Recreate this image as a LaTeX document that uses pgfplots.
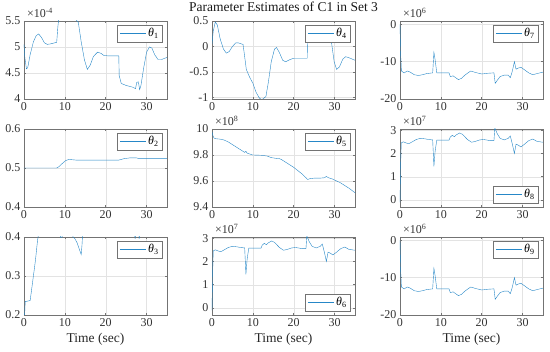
\documentclass[border=0pt]{standalone}
\usepackage{pgfplots}
\pgfplotsset{compat=1.18}
\usepgfplotslibrary{groupplots}
\usetikzlibrary{calc}
\usepackage{fontspec}
\setmainfont{Liberation Serif}
\definecolor{mblue}{rgb}{0.0,0.447,0.741}
\colorlet{lblue}{mblue!85!white}
\pgfplotsset{
  expo/.style={extra description/.code={\node[anchor=south west,inner sep=0pt,font=\fontsize{12}{12}\selectfont,text=black!80] at (0.02,1.04) {×10\textsuperscript{#1}};}},
  legNE/.style={legend style={at={(0.97,0.95)},anchor=north east}},
  legSE/.style={legend style={at={(0.97,0.05)},anchor=south east}},
}
\begin{document}
\begin{tikzpicture}
\begin{groupplot}[
  group style={group size=3 by 3, horizontal sep=45pt, vertical sep=30pt},
  scale only axis, width=143pt, height=78pt,
  xmin=0, xmax=35, xtick={0,10,20,30},
  grid=major, major grid style={gray!22, line width=0.4pt},
  axis line style={black!55, line width=0.5pt},
  tick style={black!55, line width=0.5pt}, major tick length=2.2pt,
  tick label style={font=\fontsize{12}{13}\selectfont, text=black!80},
  /pgf/number format/assume math mode=true,
  label style={font=\fontsize{13.5}{15}\selectfont, text=black!85},
  title style={font=\fontsize{13.5}{15}\selectfont, text=black!90},
  legend style={font=\fontsize{12}{13}\selectfont, draw=black!55, fill=white, inner xsep=2pt, inner ysep=1.5pt, cells={anchor=west}},
  legend image code/.code={\draw[lblue, line width=0.5pt] (0pt,0pt) -- (26pt,0pt);},
  cycle list={{lblue, line width=0.5pt, mark=none}},
]
% theta1
\nextgroupplot[ymin=4, ymax=5.5, ytick={4,4.5,5,5.5}, expo={-4}, legNE]
\addplot coordinates {(0,5.05) (0.2,4.8) (0.6,4.58) (0.9,4.6) (1.5,4.85) (2.3,5.1) (3,5.22) (3.6,5.25) (4.3,5.18) (5,5.08) (5.7,5.05) (6.5,5.06) (7.5,5.08) (8,5.09) (8.3,5.4) (8.6,5.6) (9,5.62) (12,5.62) (12.5,5.55) (13.3,5.47) (14,5.1) (14.8,4.75) (15.5,4.57) (16.2,4.65) (17,4.82) (18,4.9) (18.8,4.88) (19.5,4.84) (20.5,4.83) (23.2,4.83) (23.3,4.45) (23.8,4.3) (25,4.26) (26.5,4.23) (27.3,4.2) (27.6,4.32) (28,4.33) (28.3,4.18) (28.6,4.25) (29.3,4.6) (30,4.9) (30.7,5.0) (31.3,4.98) (32,4.85) (32.8,4.76) (33.7,4.76) (35,4.8)};
\addlegendentry{\textit{θ}\textsubscript{1}}
% theta4
\nextgroupplot[ymin=-1.03, ymax=0.5, ytick={-1,-0.5,0,0.5}, legNE, title={Parameter Estimates of C1 in Set 3}]
\addplot coordinates {(0,0.05) (0.3,0.3) (0.8,0.48) (1.3,0.42) (2,0.15) (2.8,-0.05) (3.5,-0.13) (4.2,-0.1) (5,0) (5.8,0.07) (6.5,0.07) (7.6,0.04) (8,-0.2) (8.4,-0.45) (9.2,-0.6) (10,-0.72) (10.8,-0.9) (11.5,-1.0) (12,-1.04) (12.5,-1.03) (13.2,-0.98) (13.8,-0.7) (14.5,-0.3) (15.3,-0.05) (15.8,-0.02) (16.5,-0.12) (17.3,-0.27) (18,-0.3) (19,-0.26) (20,-0.23) (23.3,-0.23) (23.4,0.2) (24,0.28) (26,0.3) (28,0.3) (28.7,0.2) (29.3,0.05) (29.9,-0.3) (30.5,-0.45) (31.2,-0.4) (32,-0.25) (32.7,-0.2) (33.5,-0.22) (35,-0.27)};
\addlegendentry{\textit{θ}\textsubscript{4}}
% theta7
\nextgroupplot[ymin=-20, ymax=0.9, ytick={-20,-10,0}, expo={6}, legNE]
\addplot coordinates {(0,0) (0.15,-8) (0.35,-12.5) (1,-13) (1.8,-12.5) (2.5,-12.8) (3.5,-13.5) (4.5,-13.7) (5.5,-13.5) (6.5,-13.2) (8,-13) (8.3,-7.5) (8.6,-9.5) (9,-13) (12,-13) (12.3,-14) (13,-13.8) (13.5,-14.2) (14.3,-14.8) (15,-14.5) (16,-13.5) (17.3,-12.5) (18.5,-12.9) (20,-13.3) (21.5,-13.1) (23,-13) (23.3,-15.8) (23.8,-15) (24.5,-14) (25.5,-13.6) (26.5,-13.6) (27,-14.3) (27.5,-12.5) (28,-10) (28.4,-12) (29,-11.7) (29.6,-11.5) (30.5,-12.2) (31.5,-13) (32.5,-13.5) (33.5,-13.2) (35,-12.8)};
\addlegendentry{\textit{θ}\textsubscript{7}}
% theta2
\nextgroupplot[ymin=0.4, ymax=0.6, ytick={0.4,0.5,0.6}, legNE]
\addplot coordinates {(0,0.5) (8,0.5) (8.5,0.503) (9.3,0.511) (10.2,0.519) (11,0.522) (12,0.521) (13,0.52) (23,0.52) (23.5,0.521) (24.5,0.524) (26,0.526) (27.5,0.526) (28.2,0.524) (30,0.524) (35,0.524)};
\addlegendentry{\textit{θ}\textsubscript{2}}
% theta5
\nextgroupplot[ymin=9.4, ymax=10, ytick={9.4,9.6,9.8,10}, expo={8}, legNE]
\addplot coordinates {(0,9.98) (0.2,9.95) (0.5,9.93) (1,9.925) (2,9.922) (3,9.915) (4,9.9) (5,9.88) (6,9.86) (7,9.84) (8,9.82) (8.3,9.828) (8.6,9.815) (9,9.81) (9.5,9.805) (10,9.8) (12,9.798) (13.5,9.792) (14.5,9.78) (15.5,9.775) (16.5,9.772) (17,9.765) (18,9.745) (19,9.725) (20,9.705) (21,9.68) (22,9.655) (23,9.625) (23.4,9.612) (24,9.618) (25,9.622) (26.5,9.622) (27.5,9.625) (28,9.635) (28.5,9.625) (29.5,9.615) (30.5,9.6) (31.5,9.585) (32.5,9.565) (33.5,9.545) (35,9.51)};
\addlegendentry{\textit{θ}\textsubscript{5}}
% theta8
\nextgroupplot[ymin=-0.3, ymax=3.05, ytick={0,1,2,3}, expo={7}, legSE]
\addplot coordinates {(0,-0.1) (0.15,1.5) (0.3,2.45) (0.8,2.5) (1.5,2.45) (2.2,2.42) (3,2.5) (4,2.6) (5,2.65) (6,2.63) (7,2.6) (8,2.58) (8.3,1.45) (8.6,2.1) (9,2.57) (12,2.57) (12.3,2.7) (12.8,2.78) (13.3,2.72) (13.8,2.8) (14.6,2.88) (15.3,2.82) (16.5,2.6) (17.5,2.48) (18.5,2.52) (19.5,2.58) (20.5,2.6) (22,2.55) (23,2.55) (23.2,3.1) (23.8,2.85) (24.5,2.65) (25.5,2.58) (26.5,2.65) (27,2.75) (27.5,2.4) (28,2.0) (28.4,2.4) (29,2.35) (29.6,2.28) (30.5,2.4) (31.5,2.55) (32.5,2.62) (33.5,2.52) (35,2.48)};
\addlegendentry{\textit{θ}\textsubscript{8}}
% theta3
\nextgroupplot[ymin=0.2, ymax=0.4, ytick={0.2,0.3,0.4}, legNE, xlabel={Time (sec)}]
\addplot coordinates {(0,0.2) (0.15,0.2) (0.3,0.235) (0.6,0.235) (1.5,0.237) (1.8,0.26) (2.3,0.3) (2.8,0.34) (3.3,0.39) (3.6,0.41) (4,0.42) (8.8,0.42) (9,0.398) (9.3,0.398) (9.5,0.42) (11.8,0.42) (12,0.4) (12.5,0.395) (13,0.385) (13.5,0.37) (14,0.355) (14.2,0.38) (14.4,0.42) (27,0.42) (27.2,0.395) (27.4,0.42) (28,0.42) (28.2,0.395) (28.4,0.42) (35,0.42)};
\addlegendentry{\textit{θ}\textsubscript{3}}
% theta6
\nextgroupplot[ymin=-0.3, ymax=3.05, ytick={0,1,2,3}, expo={7}, legSE, xlabel={Time (sec)}]
\addplot coordinates {(0,-0.1) (0.15,1.5) (0.3,2.45) (0.8,2.5) (1.5,2.45) (2.2,2.42) (3,2.5) (4,2.6) (5,2.65) (6,2.63) (7,2.6) (8,2.58) (8.3,1.45) (8.6,2.1) (9,2.57) (12,2.57) (12.3,2.7) (12.8,2.78) (13.3,2.72) (13.8,2.8) (14.6,2.88) (15.3,2.82) (16.5,2.6) (17.5,2.48) (18.5,2.52) (19.5,2.58) (20.5,2.6) (22,2.55) (23,2.55) (23.2,3.1) (23.8,2.85) (24.5,2.65) (25.5,2.58) (26.5,2.65) (27,2.75) (27.5,2.4) (28,2.0) (28.4,2.4) (29,2.35) (29.6,2.28) (30.5,2.4) (31.5,2.55) (32.5,2.62) (33.5,2.52) (35,2.48)};
\addlegendentry{\textit{θ}\textsubscript{6}}
% theta9
\nextgroupplot[ymin=-20, ymax=0.9, ytick={-20,-10,0}, expo={6}, legNE, xlabel={Time (sec)}]
\addplot coordinates {(0,0) (0.15,-8) (0.35,-12.5) (1,-13) (1.8,-12.5) (2.5,-12.8) (3.5,-13.5) (4.5,-13.7) (5.5,-13.5) (6.5,-13.2) (8,-13) (8.3,-7.5) (8.6,-9.5) (9,-13) (12,-13) (12.3,-14) (13,-13.8) (13.5,-14.2) (14.3,-14.8) (15,-14.5) (16,-13.5) (17.3,-12.5) (18.5,-12.9) (20,-13.3) (21.5,-13.1) (23,-13) (23.3,-15.8) (23.8,-15) (24.5,-14) (25.5,-13.6) (26.5,-13.6) (27,-14.3) (27.5,-12.5) (28,-10) (28.4,-12) (29,-11.7) (29.6,-11.5) (30.5,-12.2) (31.5,-13) (32.5,-13.5) (33.5,-13.2) (35,-12.8)};
\addlegendentry{\textit{θ}\textsubscript{9}}
\end{groupplot}
\pgfresetboundingbox
\path ($(group c1r1.north west)+(-24pt,21pt)$) rectangle ++(550pt,-352pt);
\end{tikzpicture}
\end{document}
